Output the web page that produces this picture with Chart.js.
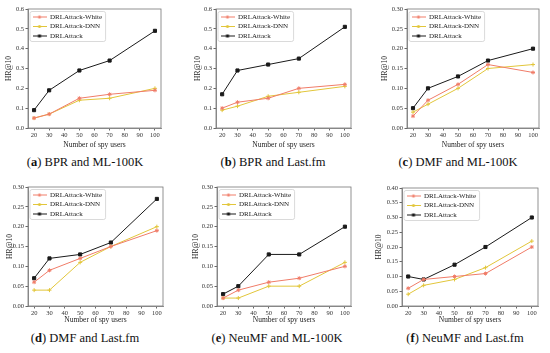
<!DOCTYPE html>
<html>
<head>
<meta charset="utf-8">
<script src="https://cdn.jsdelivr.net/npm/chart.js@4/dist/chart.umd.min.js"></script>
<style>
  body { margin: 0; background: #fff; }
  #fig { position: relative; width: 550px; height: 353px; overflow: hidden; }
  #fig canvas { position: absolute; }
  .cap { position: absolute; width: 200px; text-align: center; font-family: "Liberation Serif", serif; font-size: 12.5px; color: #111; white-space: nowrap; }
</style>
</head>
<body>
<div id="fig"></div>
<script>
// spy users on the x axis
const spyUsers = [20, 30, 50, 70, 100];
const xTicks = [20, 30, 40, 50, 60, 70, 80, 90, 100];
const seriesNames = ['DRLAttack-White', 'DRLAttack-DNN', 'DRLAttack'];

const captionLetters = ['a', 'b', 'c', 'd', 'e', 'f'];
const captionTexts = ['BPR and ML-100K', 'BPR and Last.fm', 'DMF and ML-100K',
  'DMF and Last.fm', 'NeuMF and ML-100K', 'NeuMF and Last.fm'];

// HR@10 values, one array per series per panel
const whiteA = [0.05, 0.07, 0.15, 0.17, 0.19];
const dnnA = [0.05, 0.07, 0.14, 0.15, 0.20];
const drlA = [0.09, 0.19, 0.29, 0.34, 0.49];

const whiteB = [0.10, 0.13, 0.15, 0.20, 0.22];
const dnnB = [0.09, 0.11, 0.16, 0.18, 0.21];
const drlB = [0.17, 0.29, 0.32, 0.35, 0.51];

const whiteC = [0.03, 0.07, 0.11, 0.16, 0.14];
const dnnC = [0.04, 0.06, 0.10, 0.15, 0.16];
const drlC = [0.05, 0.10, 0.13, 0.17, 0.20];

const whiteD = [0.06, 0.09, 0.12, 0.15, 0.19];
const dnnD = [0.04, 0.04, 0.11, 0.15, 0.20];
const drlD = [0.07, 0.12, 0.13, 0.16, 0.27];

const whiteE = [0.02, 0.04, 0.06, 0.07, 0.10];
const dnnE = [0.02, 0.02, 0.05, 0.05, 0.11];
const drlE = [0.03, 0.05, 0.13, 0.13, 0.20];

const whiteF = [0.06, 0.09, 0.10, 0.11, 0.20];
const dnnF = [0.04, 0.07, 0.09, 0.13, 0.22];
const drlF = [0.10, 0.09, 0.14, 0.20, 0.30];

const yTicksWide = [0, 0.1, 0.2, 0.3, 0.4, 0.5, 0.6];
const yTicks30 = [0, 0.05, 0.10, 0.15, 0.20, 0.25, 0.30];
const yTicks40 = [0, 0.05, 0.10, 0.15, 0.20, 0.25, 0.30, 0.35, 0.40];

const panelData = [
  [whiteA, dnnA, drlA, yTicksWide, 1],
  [whiteB, dnnB, drlB, yTicksWide, 1],
  [whiteC, dnnC, drlC, yTicks30, 2],
  [whiteD, dnnD, drlD, yTicks30, 2],
  [whiteE, dnnE, drlE, yTicks30, 2],
  [whiteF, dnnF, drlF, yTicks40, 2]
];

// where each panel sits in the figure
const boxes = [
  { left: 0, top: 0, w: 183, h: 150, pl: 28, pr: 161, pt: 9, pb: 128, tx: 9, cx: 85, cy: 163 },
  { left: 183, top: 0, w: 183, h: 150, pl: 33, pr: 168, pt: 9, pb: 128, tx: 15, cx: 90, cy: 163 },
  { left: 366, top: 0, w: 184, h: 150, pl: 41, pr: 173, pt: 9, pb: 128, tx: 19, cx: 92, cy: 163 },
  { left: 0, top: 175, w: 183, h: 150, pl: 28, pr: 163, pt: 12, pb: 131, tx: 10, cx: 85, cy: 164 },
  { left: 183, top: 175, w: 183, h: 150, pl: 34, pr: 168, pt: 12, pb: 131, tx: 13, cx: 94, cy: 164 },
  { left: 366, top: 175, w: 184, h: 150, pl: 36, pr: 172, pt: 13, pb: 131, tx: 13, cx: 99, cy: 164 }
];

const colors = ['#f07c68', '#e2c63a', '#1a1a1a'];
const markers = ['star', 'cross', 'rect'];

function legendIcon(i) {
  const c = document.createElement('canvas');
  c.width = 14; c.height = 7;
  const g = c.getContext('2d');
  g.strokeStyle = colors[i];
  g.fillStyle = colors[i];
  g.lineWidth = 1;
  g.beginPath(); g.moveTo(0, 3.5); g.lineTo(14, 3.5); g.stroke();
  if (i === 2) {
    g.fillRect(5.5, 2, 3, 3);
  } else {
    g.beginPath(); g.arc(7, 3.5, 1.5, 0, Math.PI * 2); g.fill();
  }
  return c;
}
const icons = [0, 1, 2].map(legendIcon);

const frame = {
  id: 'frame',
  afterUpdate(chart) {
    // put the legend just inside the top-left corner of the plot
    const l = chart.legend;
    l.top = chart.chartArea.top + 2;
    l.left = chart.chartArea.left + 2;
    l.fit();
    l.adjustHitBoxes();
  },
  afterDraw(chart) {
    const a = chart.chartArea, ctx = chart.ctx;
    ctx.save();
    ctx.strokeStyle = '#777';
    ctx.lineWidth = 0.8;
    ctx.strokeRect(a.left, a.top, a.right - a.left, a.bottom - a.top);
    const hb = chart.legend.legendHitBoxes;
    if (hb && hb.length) {
      let x0 = Infinity, y0 = Infinity, x1 = -Infinity, y1 = -Infinity;
      hb.forEach(b => {
        x0 = Math.min(x0, b.left); y0 = Math.min(y0, b.top);
        x1 = Math.max(x1, b.left + b.width); y1 = Math.max(y1, b.top + b.height);
      });
      ctx.strokeStyle = '#d0d0d0';
      ctx.beginPath();
      ctx.roundRect(x0 - 2.5, y0 - 2, x1 - x0 + 6, y1 - y0 + 4, 2);
      ctx.stroke();
    }
    ctx.restore();
  }
};

const fig = document.getElementById('fig');
const tickFont = { family: 'Liberation Serif', size: 6.5 };
const titleFont = { family: 'Liberation Serif', size: 7.5 };

panelData.forEach((p, k) => {
  const b = boxes[k];
  const cv = document.createElement('canvas');
  cv.width = b.w; cv.height = b.h;
  cv.style.left = b.left + 'px'; cv.style.top = b.top + 'px';
  fig.appendChild(cv);

  const cap = document.createElement('div');
  cap.className = 'cap';
  cap.style.left = (b.left + b.cx - 100) + 'px';
  cap.style.top = (b.top + b.cy - 8) + 'px';
  cap.innerHTML = '(<b>' + captionLetters[k] + '</b>) ' + captionTexts[k];
  fig.appendChild(cap);

  const yTicks = p[3];
  const padLeft = Math.max(0, b.tx - 4);

  new Chart(cv, {
    type: 'line',
    data: {
      datasets: [0, 1, 2].map(i => ({
        label: seriesNames[i],
        data: spyUsers.map((x, j) => ({ x: x, y: p[i][j] })),
        borderColor: colors[i],
        backgroundColor: colors[i],
        borderWidth: 1,
        pointStyle: markers[i],
        pointRadius: i === 2 ? 2.2 : 2,
        pointBorderWidth: 1,
        tension: 0
      }))
    },
    options: {
      responsive: false,
      animation: false,
      layout: { padding: { left: padLeft, right: b.w - b.pr, top: b.pt, bottom: 0 } },
      plugins: {
        tooltip: { enabled: false },
        legend: {
          position: 'chartArea',
          align: 'start',
          labels: {
            usePointStyle: true,
            pointStyleWidth: 14,
            padding: 2.5,
            color: '#222',
            font: { family: 'Liberation Serif', size: 7 },
            generateLabels: chart => chart.data.datasets.map((d, i) => ({
              text: d.label,
              pointStyle: icons[i],
              fontColor: '#222',
              datasetIndex: i,
              lineWidth: 0
            }))
          }
        }
      },
      scales: {
        x: {
          type: 'linear',
          min: 16, max: 104,
          afterBuildTicks: s => { s.ticks = xTicks.map(v => ({ value: v })); },
          afterFit: s => { s.height = b.h - b.pb; },
          grid: { drawOnChartArea: false, tickLength: 2.5, color: '#666' },
          border: { color: '#777', width: 0.8 },
          ticks: { font: tickFont, color: '#333', padding: 1, maxRotation: 0, autoSkip: false },
          title: { display: true, text: 'Number of spy users', font: titleFont, color: '#222', padding: { top: 0, bottom: 0 } }
        },
        y: {
          min: 0, max: yTicks[yTicks.length - 1],
          afterBuildTicks: s => { s.ticks = yTicks.map(v => ({ value: v })); },
          afterFit: s => { s.width = b.pl - padLeft; },
          grid: { drawOnChartArea: false, tickLength: 2.5, color: '#666' },
          border: { color: '#777', width: 0.8 },
          ticks: { font: tickFont, color: '#333', padding: 1.5, callback: v => v.toFixed(p[4]) },
          title: { display: true, text: 'HR@10', font: titleFont, color: '#222', padding: 0 }
        }
      }
    },
    plugins: [frame]
  });
});
</script>
</body>
</html>
